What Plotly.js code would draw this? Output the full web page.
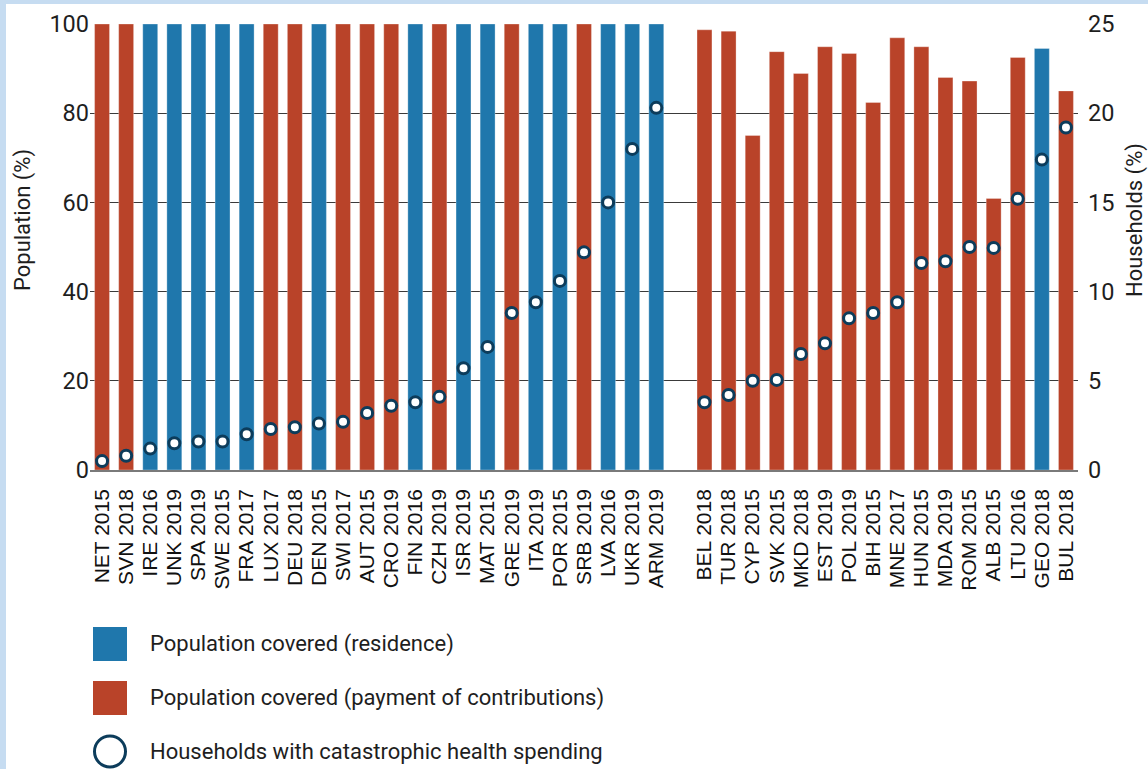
<!DOCTYPE html>
<html>
<head>
<meta charset="utf-8">
<script src="https://cdn.plot.ly/plotly-3.0.1.min.js"></script>
<style>
  html, body { margin: 0; padding: 0; background: #c6dcf1; width: 1148px; height: 769px; overflow: hidden; }
  #chart { position: absolute; left: 6px; top: 4px; width: 1142px; height: 765px; background: #ffffff; }
</style>
</head>
<body>
<div id="chart"></div>
<script>
// ---- data ----
const leftLabels = ['NET 2015','SVN 2018','IRE 2016','UNK 2019','SPA 2019','SWE 2015','FRA 2017','LUX 2017',
  'DEU 2018','DEN 2015','SWI 2017','AUT 2015','CRO 2019','FIN 2016','CZH 2019','ISR 2019','MAT 2015',
  'GRE 2019','ITA 2019','POR 2015','SRB 2019','LVA 2016','UKR 2019','ARM 2019'];
const leftCoverage = [100,100,100,100,100,100,100,100,100,100,100,100,100,100,100,100,100,100,100,100,100,100,100,100];
const leftBasis = ['C','C','R','R','R','R','R','C','C','R','C','C','C','R','C','R','R','C','R','R','C','R','R','R'];
const leftHouseholds = [0.5,0.8,1.2,1.5,1.6,1.6,2.0,2.3,2.4,2.6,2.7,3.2,3.6,3.8,4.1,5.7,6.9,8.8,9.4,10.6,12.2,15.0,18.0,20.3];

const rightLabels = ['BEL 2018','TUR 2018','CYP 2015','SVK 2015','MKD 2018','EST 2019','POL 2019','BIH 2015',
  'MNE 2017','HUN 2015','MDA 2019','ROM 2015','ALB 2015','LTU 2016','GEO 2018','BUL 2018'];
const rightCoverage = [98.7,98.4,75.0,93.8,88.9,94.9,93.4,82.4,96.9,94.9,88.0,87.2,60.9,92.5,94.5,85.0];
const rightBasis = ['C','C','C','C','C','C','C','C','C','C','C','C','C','C','R','C'];
const rightHouseholds = [3.8,4.2,5.0,5.05,6.5,7.1,8.5,8.8,9.4,11.6,11.7,12.5,12.45,15.2,17.4,19.2];

const yTicksLeft = [0,20,40,60,80,100];
const yTicksRight = [0,5,10,15,20,25];
const legendNames = ['Population covered (residence)', 'Population covered (payment of contributions)', 'Households with catastrophic health spending'];
const axisTitles = ['Population (%)', 'Households (%)'];

// ---- build ----
const spacer = ' ';
const cats = leftLabels.concat([spacer], rightLabels);
const coverage = leftCoverage.concat([null], rightCoverage);
const basis = leftBasis.concat([null], rightBasis);
const households = leftHouseholds.concat([null], rightHouseholds);

const BLUE = '#1f77ac', RED = '#b94329', NAVY = '#0c3c5b';

const resY = coverage.map((v, i) => basis[i] === 'R' ? v : null);
const conY = coverage.map((v, i) => basis[i] === 'C' ? v : null);

const traces = [
  { type: 'bar', x: cats, y: resY, name: legendNames[0], marker: { color: BLUE, line: { width: 1, color: 'rgba(255,255,255,0.3)' } }, hoverinfo: 'x+y' },
  { type: 'bar', x: cats, y: conY, name: legendNames[1], marker: { color: RED, line: { width: 1, color: 'rgba(255,255,255,0.3)' } }, hoverinfo: 'x+y' },
  { type: 'scatter', mode: 'markers', x: cats, y: households, yaxis: 'y2', name: legendNames[2],
    marker: { symbol: 'circle', size: 11, color: '#ffffff', line: { width: 3, color: NAVY } }, cliponaxis: false }
];

// pixel helpers (page coords of plot area)
const PL = 90, PW = 988, PB = 470, PH = 446;
const px = x => (x - PL) / PW;
const py = y => (PB - y) / PH;

const txtFont = { family: 'Roboto, "Open Sans", sans-serif', size: 22, color: '#1e1e1e' };

const shapes = [
  { type: 'rect', xref: 'paper', yref: 'paper', x0: px(93), x1: px(127), y0: py(661), y1: py(627), fillcolor: BLUE, line: { width: 0 } },
  { type: 'rect', xref: 'paper', yref: 'paper', x0: px(93), x1: px(127), y0: py(715), y1: py(681), fillcolor: RED, line: { width: 0 } },
  { type: 'circle', xref: 'paper', yref: 'paper', x0: px(94.5), x1: px(125.5), y0: py(767), y1: py(736), fillcolor: '#ffffff', line: { width: 3, color: NAVY } }
];

const annotations = [
  { xref: 'paper', yref: 'paper', x: px(148), y: py(644), xanchor: 'left', yanchor: 'middle', text: legendNames[0], showarrow: false, font: txtFont },
  { xref: 'paper', yref: 'paper', x: px(148), y: py(698), xanchor: 'left', yanchor: 'middle', text: legendNames[1], showarrow: false, font: txtFont },
  { xref: 'paper', yref: 'paper', x: px(148), y: py(751), xanchor: 'left', yanchor: 'middle', text: legendNames[2], showarrow: false, font: txtFont },
  { xref: 'paper', yref: 'paper', x: px(23), y: py(220), xanchor: 'center', yanchor: 'middle', textangle: -90, text: axisTitles[0], showarrow: false, font: txtFont },
  { xref: 'paper', yref: 'paper', x: px(1135), y: py(220), xanchor: 'center', yanchor: 'middle', textangle: -90, text: axisTitles[1], showarrow: false, font: txtFont }
];

const numFont = { family: 'Roboto, "Open Sans", sans-serif', size: 23.5, color: '#1e1e1e' };

const layout = {
  width: 1142, height: 765,
  margin: { l: 84, r: 70, t: 20, b: 299, pad: 0 },
  paper_bgcolor: '#ffffff', plot_bgcolor: '#ffffff',
  showlegend: false,
  barmode: 'overlay', bargap: 0.38,
  xaxis: {
    type: 'category', categoryorder: 'array', categoryarray: cats,
    range: [-0.5, cats.length - 0.5], autorange: false,
    tickmode: 'array', tickvals: cats, ticktext: cats,
    tickangle: -90, ticks: '', tickfont: { family: '"Liberation Sans", Arial, sans-serif', size: 21, color: '#111' },
    showgrid: false, showline: true, linecolor: '#7a7a7a', linewidth: 1.5, zeroline: false,
    ticklabelstandoff: 9, fixedrange: true
  },
  yaxis: {
    range: [0, 100], tickvals: yTicksLeft, ticks: '', tickfont: numFont,
    showgrid: true, gridcolor: '#3a3a3a', gridwidth: 1, zeroline: false, showline: false,
    ticklabelstandoff: 0, fixedrange: true
  },
  yaxis2: {
    range: [0, 25], tickvals: yTicksRight, overlaying: 'y', side: 'right', ticks: '', tickfont: numFont,
    showgrid: false, zeroline: false, showline: false, ticklabelstandoff: 9, fixedrange: true
  },
  shapes: shapes,
  annotations: annotations,
  font: { family: 'Roboto, sans-serif', color: '#1e1e1e' }
};

Plotly.newPlot('chart', traces, layout, { displayModeBar: false, responsive: false });
</script>
</body>
</html>
